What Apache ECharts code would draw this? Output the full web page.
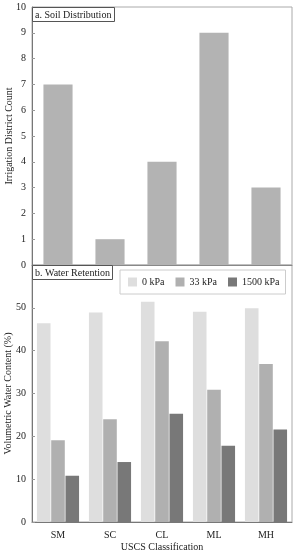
<!DOCTYPE html>
<html><head><meta charset="utf-8">
<script src="https://cdn.jsdelivr.net/npm/echarts@6/dist/echarts.min.js"></script>
<style>html,body{margin:0;padding:0;background:#fff}#c{width:296px;height:550px}</style>
</head><body><div id="c"></div>
<script>
const categories = ['SM', 'SC', 'CL', 'ML', 'MH'];
const districtCount = [7, 1, 4, 9, 3];
const wc0kPa = [46.4, 48.9, 51.4, 49.1, 49.9];
const wc33kPa = [19.1, 24.0, 42.2, 30.9, 36.9];
const wc1500kPa = [10.8, 14.0, 25.3, 17.8, 21.6];
const seriesNames = ['0 kPa', '33 kPa', '1500 kPa'];
const topTicks = [0, 10, 1];
const bottomTicks = [0, 60, 10];

const FONT = 'Liberation Serif';
const TXT = '#222';
const chart = echarts.init(document.getElementById('c'), null, {renderer: 'canvas'});
const yCommon = {
  axisLine: {show: true, lineStyle: {color: '#777', width: 1}},
  axisTick: {show: true, inside: true, length: 3, lineStyle: {color: '#999'}},
  splitLine: {show: false},
  axisLabel: {fontFamily: FONT, fontSize: 10, color: TXT, margin: 6},
  nameLocation: 'middle',
  nameMoveOverlap: false,
  nameTextStyle: {fontFamily: FONT, fontSize: 10, color: TXT}
};
chart.setOption({
  animation: false,
  title: [
    {text: 'a. Soil Distribution', left: 32, top: 7, padding: [3, 3, 2, 3],
     borderColor: '#555', borderWidth: 1, backgroundColor: '#fff',
     textStyle: {fontFamily: FONT, fontSize: 10, fontWeight: 'normal', color: TXT}},
    {text: 'b. Water Retention', left: 32, top: 265, padding: [3, 3, 2, 3],
     borderColor: '#555', borderWidth: 1, backgroundColor: '#fff',
     textStyle: {fontFamily: FONT, fontSize: 10, fontWeight: 'normal', color: TXT}}
  ],
  legend: {
    data: seriesNames, left: 120, top: 270, width: 168,
    padding: [7, 6, 7, 8], itemGap: 11,
    borderColor: '#ccc', borderWidth: 1, backgroundColor: '#fff',
    icon: 'rect', itemWidth: 9, itemHeight: 9,
    textStyle: {fontFamily: FONT, fontSize: 10, color: TXT}
  },
  grid: [
    {left: 32, top: 7, width: 260, height: 258, show: true, borderColor: '#aaa', borderWidth: 1,
     containLabel: false, outerBoundsMode: 'none'},
    {left: 32, top: 265, width: 260, height: 257, show: true, borderColor: '#aaa', borderWidth: 1,
     containLabel: false, outerBoundsMode: 'none'}
  ],
  xAxis: [
    {type: 'category', gridIndex: 0, data: categories,
     axisLine: {show: true, lineStyle: {color: '#888'}}, axisTick: {show: false}, axisLabel: {show: false}},
    {type: 'category', gridIndex: 1, data: categories,
     axisLine: {show: true, lineStyle: {color: '#777'}}, axisTick: {show: false},
     axisLabel: {fontFamily: FONT, fontSize: 10, color: TXT, margin: 8},
     name: 'USCS Classification', nameLocation: 'middle', nameGap: 20, nameMoveOverlap: false,
     nameTextStyle: {fontFamily: FONT, fontSize: 10, color: TXT}}
  ],
  yAxis: [
    Object.assign({}, yCommon, {type: 'value', gridIndex: 0, min: topTicks[0], max: topTicks[1], interval: topTicks[2],
      name: 'Irrigation District Count', nameGap: 18}),
    Object.assign({}, yCommon, {type: 'value', gridIndex: 1, min: bottomTicks[0], max: bottomTicks[1], interval: bottomTicks[2],
      name: 'Volumetric Water Content (%)', nameGap: 19,
      axisLabel: Object.assign({}, yCommon.axisLabel, {formatter: v => v === bottomTicks[1] ? '' : String(v)})})
  ],
  series: [
    {type: 'bar', name: 'count', xAxisIndex: 0, yAxisIndex: 0, data: districtCount,
     barCategoryGap: '44%', itemStyle: {color: '#b3b3b3'}},
    {type: 'bar', name: seriesNames[0], xAxisIndex: 1, yAxisIndex: 1, data: wc0kPa,
     barCategoryGap: '19%', barGap: '5%', itemStyle: {color: '#dedede'}},
    {type: 'bar', name: seriesNames[1], xAxisIndex: 1, yAxisIndex: 1, data: wc33kPa,
     barCategoryGap: '19%', barGap: '5%', itemStyle: {color: '#b0b0b0'}},
    {type: 'bar', name: seriesNames[2], xAxisIndex: 1, yAxisIndex: 1, data: wc1500kPa,
     barCategoryGap: '19%', barGap: '5%', itemStyle: {color: '#787878'}}
  ]
});
</script></body></html>
